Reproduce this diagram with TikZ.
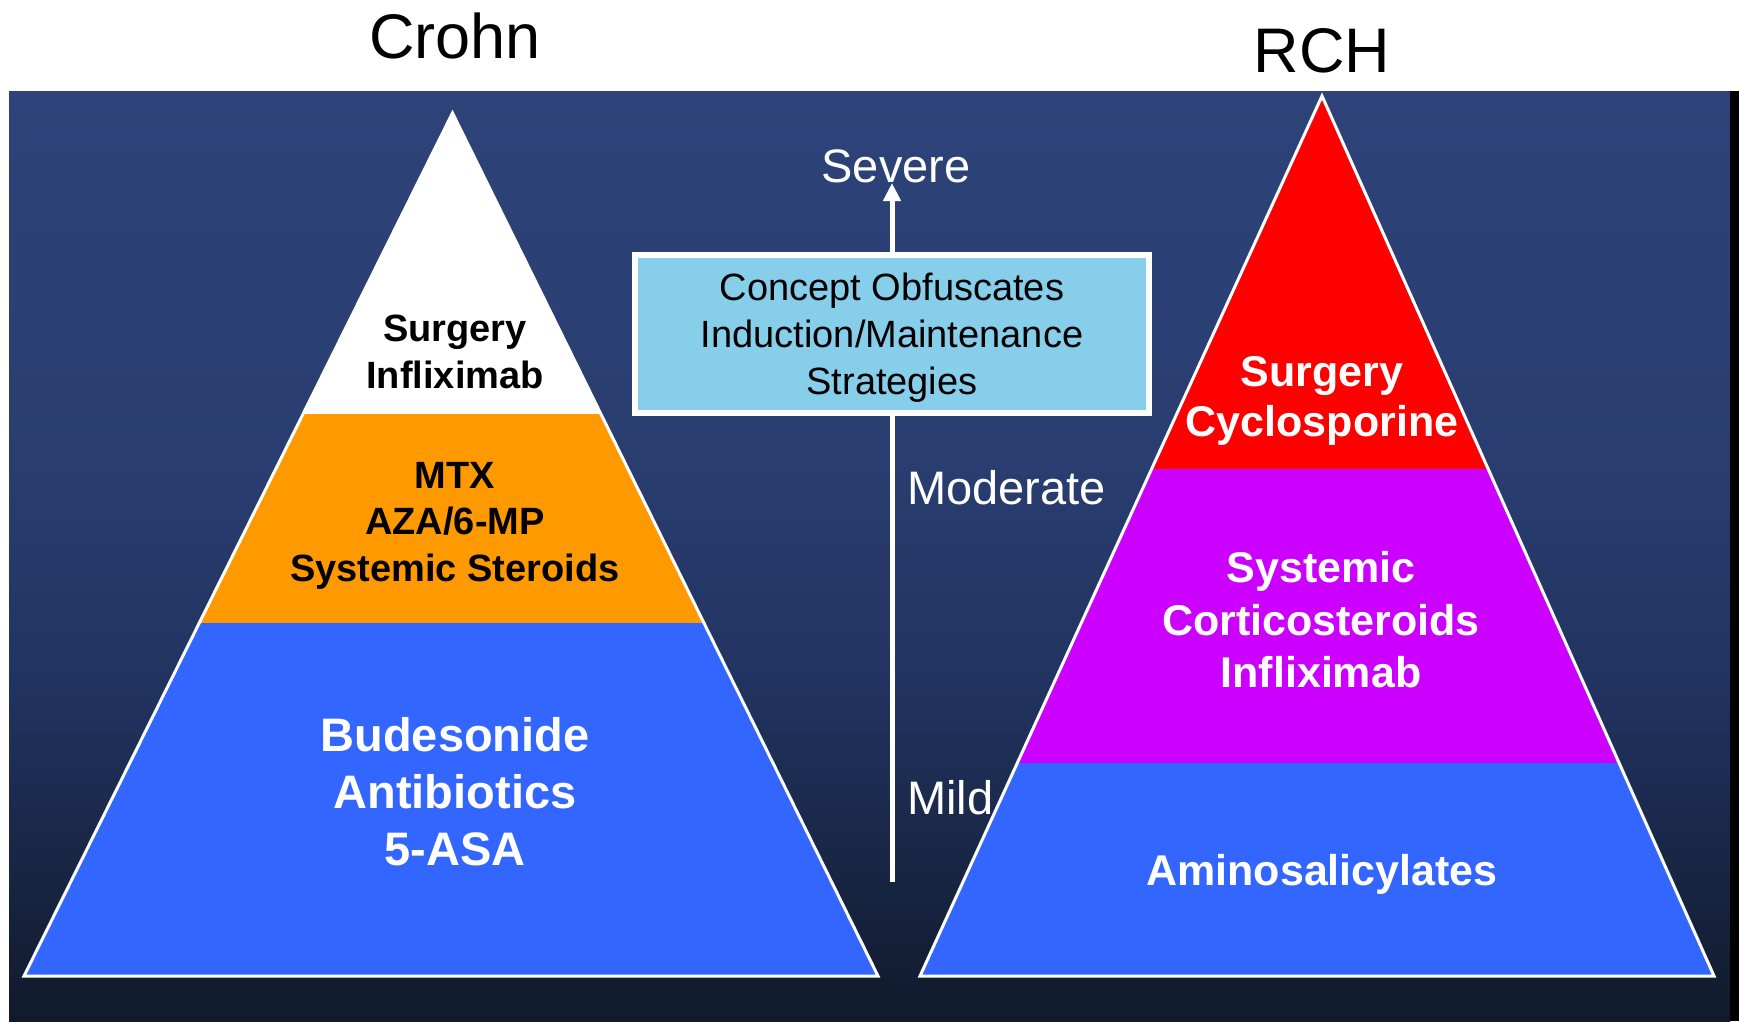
\documentclass[tikz,border=0pt]{standalone}
\usepackage{fontspec}
\setmainfont{Liberation Sans}
\usetikzlibrary{arrows.meta}
\definecolor{bgtop}{HTML}{2D4379}
\definecolor{bgmid}{HTML}{293D70}
\definecolor{bglow}{HTML}{213360}
\definecolor{bglower}{HTML}{172440}
\definecolor{bgbot}{HTML}{111A2C}
\definecolor{cOrange}{HTML}{FF9900}
\definecolor{cBlue}{HTML}{3366FF}
\definecolor{cRed}{HTML}{FF0000}
\definecolor{cPurple}{HTML}{CC00FF}
\definecolor{cSky}{HTML}{87CEEB}
\pgfdeclareverticalshading{bgsh}{100bp}{color(0bp)=(bgbot); color(25bp)=(bgbot); color(32bp)=(bglower); color(43bp)=(bglow); color(55bp)=(bgmid); color(75bp)=(bgtop); color(100bp)=(bgtop)}
\begin{document}
\begin{tikzpicture}[x=1pt,y=-1pt,
  outline/.style={draw=white, line width=3pt, line join=miter},
  titlelbl/.style={inner sep=0pt, font=\fontsize{63}{70}\selectfont, text=black},
  blacklbl/.style={inner sep=0pt, align=center, text=black, font=\bfseries\fontsize{38}{46.5}\selectfont},
  bigwhite/.style={inner sep=0pt, align=center, text=white, font=\bfseries\fontsize{47}{57}\selectfont},
  whitelbl/.style={inner sep=0pt, align=center, text=white, font=\bfseries\fontsize{43}{50}\selectfont},
  widewhite/.style={inner sep=0pt, align=center, text=white, font=\bfseries\fontsize{43}{52.5}\selectfont},
  sevlbl/.style={inner sep=0pt, text=white, font=\fontsize{47}{52}\selectfont},
  conceptbox/.style={draw=white, line width=6pt, fill=cSky, minimum width=514pt, minimum height=158pt, inner sep=0pt},
  concepttext/.style={inner sep=0pt, align=center, text=black, font=\fontsize{38}{47}\selectfont}
]
\useasboundingbox (0,0) rectangle (1739,1021);
\fill[white] (0,0) rectangle (1739,1021);
\shade[shading=bgsh] (9,91) rectangle (1730,1021);
\fill[black] (1730,91) rectangle (1739,1021);

% titles
\node[titlelbl] (crohn) at (455,36) {Crohn};
\node[titlelbl] (rch) at (1322,51) {RCH};

% left pyramid
\coordinate (LA) at (452.5,113);
\coordinate (LL) at (24,976);
\coordinate (LR) at (878,976);
\begin{scope}
  \clip (LA) -- (LL) -- (LR) -- cycle;
  \fill[white] (0,100) rectangle (900,414);
  \fill[cOrange] (0,414) rectangle (900,623);
  \fill[cBlue] (0,623) rectangle (900,980);
\end{scope}
\draw[outline] (LA) -- (LL) -- (LR) -- cycle;

% right pyramid
\coordinate (RA) at (1322,96);
\coordinate (RL) at (920,976);
\coordinate (RR) at (1714,976);
\begin{scope}
  \clip (RA) -- (RL) -- (RR) -- cycle;
  \fill[cRed] (900,90) rectangle (1730,469);
  \fill[cPurple] (900,469) rectangle (1730,763);
  \fill[cBlue] (900,763) rectangle (1730,980);
\end{scope}
\draw[outline] (RA) -- (RL) -- (RR) -- cycle;

% left labels
\node[blacklbl] (l1) at (455,352) {Surgery\\Infliximab};
\node[blacklbl] (l2) at (455,525.5) {MTX\\AZA/6-MP\\Systemic Steroids};
\node[bigwhite] (l3) at (455,792) {Budesonide\\Antibiotics\\5-ASA};

% right labels
\node[whitelbl] (r1) at (1322,400.5) {Surgery\\Cyclosporine};
\node[widewhite] (r2) at (1321,620) {Systemic\\Corticosteroids\\Infliximab};
\node[whitelbl] (r3) at (1322,874.5) {Aminosalicylates};

% severity scale
\node[sevlbl, anchor=south] (severe) at (896,183) {Severe};
\node[sevlbl, anchor=west] (moderate) at (907,488) {Moderate};
\node[sevlbl, anchor=west] (mild) at (907,798) {Mild};
\coordinate (mildend) at (892,882);
\draw[white, line width=5pt, -{Triangle[width=17pt,length=18pt]}] (mildend) -- (mildend |- severe.south);

\node[conceptbox] (concept) at (892,334) {};
\node[concepttext] (concepttxt) at (892,337.5) {Concept Obfuscates\\Induction/Maintenance\\Strategies};
\end{tikzpicture}
\end{document}
